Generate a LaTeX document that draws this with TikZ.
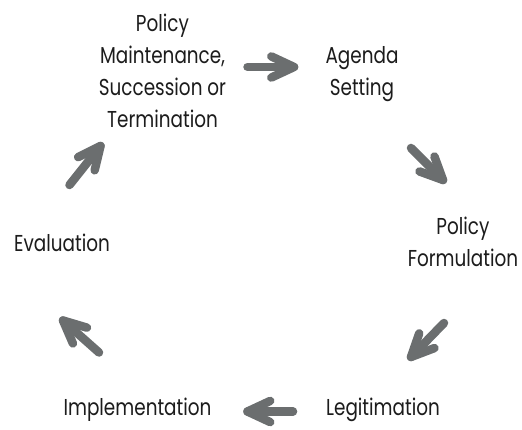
\documentclass[tikz,border=0pt]{standalone}
\usepackage{fontspec}
\setmainfont{Poppins}[FakeStretch=0.8]
\usetikzlibrary{calc}
\definecolor{arrowgray}{HTML}{6B6E6F}
\definecolor{ink}{HTML}{1C1C1C}
% one step arrow of the cycle: shaft plus open chevron head
\newcommand\cyclestep[2]{%
  \draw[cyclearrow] (#1) -- (#2);
  \draw[cyclearrow] ($(#2)!25pt!25:(#1)$) -- (#2) -- ($(#2)!25pt!-25:(#1)$);}
\begin{document}
\begin{tikzpicture}[x=1pt,y=-1pt,
  stage/.style={text=ink, align=center, inner sep=0pt, anchor=base,
    font=\fontsize{23}{32}\selectfont},
  cyclearrow/.style={draw=arrowgray, line width=8.5pt, line cap=round, line join=round}]
\useasboundingbox (0,0) rectangle (522,430);
\fill[white] (0,0) rectangle (522,430);

% stages of the policy cycle (anchored at the baseline of the last line)
\node[stage] (maint) at (162.5,128) {Policy\\Maintenance,\\Succession or\\Termination};
\node[stage] (agenda) at (362,96) {Agenda\\Setting};
\node[stage] (form) at (463,267) {Policy\\Formulation};
\node[stage] (legit) at (383,415) {Legitimation};
\node[stage] (impl) at (137.5,415) {Implementation};
\node[stage] (eval) at (62,252) {Evaluation};

% arrow end points (tail, tip)
\coordinate (a1s) at (247.5,67);   \coordinate (a1t) at (294,67);
\coordinate (a2s) at (411,148);    \coordinate (a2t) at (443,180);
\coordinate (a3s) at (444,323);    \coordinate (a3t) at (411,357);
\coordinate (a4s) at (293,411.5);  \coordinate (a4t) at (247.5,411.5);
\coordinate (a5s) at (99,352.5);   \coordinate (a5t) at (63,320.5);
\coordinate (a6s) at (69.5,185);   \coordinate (a6t) at (100.5,146);

\cyclestep{a1s}{a1t}
\cyclestep{a2s}{a2t}
\cyclestep{a3s}{a3t}
\cyclestep{a4s}{a4t}
\cyclestep{a5s}{a5t}
\cyclestep{a6s}{a6t}
\end{tikzpicture}
\end{document}
